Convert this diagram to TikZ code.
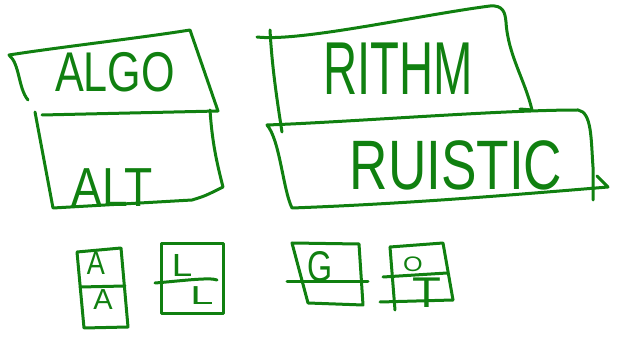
\documentclass[tikz,border=0pt]{standalone}
\usepackage{graphicx}
\usepackage{fontspec}
\setmainfont{Liberation Sans}
\definecolor{ink}{RGB}{16,128,16}
\begin{document}
\begin{tikzpicture}[x=1pt,y=-1pt,
  pen/.style={draw=ink,line width=3pt,line cap=round,line join=round},
  lbl/.style={text=ink,inner sep=0pt,anchor=base}]
\useasboundingbox (0,0) rectangle (622,339);
% ALGO / ALT
\draw[pen] (28,100) .. controls (18,88) and (20,64) .. (9,55) .. controls (60,47) and (140,38) .. (190,30) -- (218,111) -- (42,115);
\draw[pen] (35,112) -- (53,208) -- (192,200) .. controls (205,196) .. (223,187) .. controls (216,160) and (212,140) .. (210,110);
\node[lbl,font=\fontsize{56}{60}\selectfont] (algo) at (115,92) {\scalebox{0.77}[1]{ALGO}};
\node[lbl,font=\fontsize{55}{60}\selectfont] (alt) at (112,207) {\scalebox{0.84}[1]{ALT}};
% RITHM / RUISTIC
\draw[pen] (270,30) .. controls (272,67) and (277,100) .. (282,132);
\draw[pen] (257,37) .. controls (300,42) and (420,15) .. (490,6) .. controls (503,5) and (505,12) .. (506,22) .. controls (508,55) and (525,80) .. (532,110) -- (520,109);
\draw[pen] (593,200) -- (593,167) .. controls (591,140) and (592,112) .. (578,110) .. controls (500,110) and (350,122) .. (267,125) .. controls (280,140) and (283,190) .. (292,208) .. controls (400,204) and (500,196) .. (608,187) -- (597,176);
\node[lbl,font=\fontsize{75}{80}\selectfont] (rithm) at (398,95) {\scalebox{0.63}[1]{RITHM}};
\node[lbl,font=\fontsize{70}{75}\selectfont] (ruistic) at (456,190) {\scalebox{0.76}[1]{RUISTIC}};
% small boxes
\draw[pen] (77,252) -- (121,248) -- (128,327) -- (84,328) -- cycle;
\draw[pen] (80,287) -- (125,286);
\node[lbl,font=\fontsize{33}{36}\selectfont] (a1) at (96,275) {\scalebox{0.82}[1]{A}};
\node[lbl,font=\fontsize{29}{32}\selectfont] (a2) at (103,310) {A};
\draw[pen] (161,244) rectangle (223,314);
\draw[pen] (155,283) .. controls (180,281) and (210,277) .. (217,280);
\node[lbl,font=\fontsize{32}{36}\selectfont] (l1) at (182,277) {\scalebox{1.15}[1]{L}};
\node[lbl,font=\fontsize{26}{30}\selectfont] (l2) at (202,305) {\scalebox{1.6}[1]{L}};
\draw[pen] (292,243) -- (359,244) -- (363,305) -- (308,303) -- cycle;
\draw[pen] (287,282) -- (368,282);
\node[lbl,font=\fontsize{43}{46}\selectfont] (g) at (320,282) {\scalebox{0.75}[1]{G}};
\draw[pen] (390,247) -- (443,243) -- (453,300);
\draw[pen] (390,247) -- (395,310);
\draw[pen] (380,302) -- (453,300);
\draw[pen] (383,277) -- (447,273);
\node[lbl,font=\fontsize{21}{24}\selectfont] (o) at (413,272) {\scalebox{1.2}[1]{O}};
\node[lbl,font=\fontsize{43}{46}\selectfont] (t) at (427,308) {\scalebox{1.1}[1]{T}};
\end{tikzpicture}
\end{document}
